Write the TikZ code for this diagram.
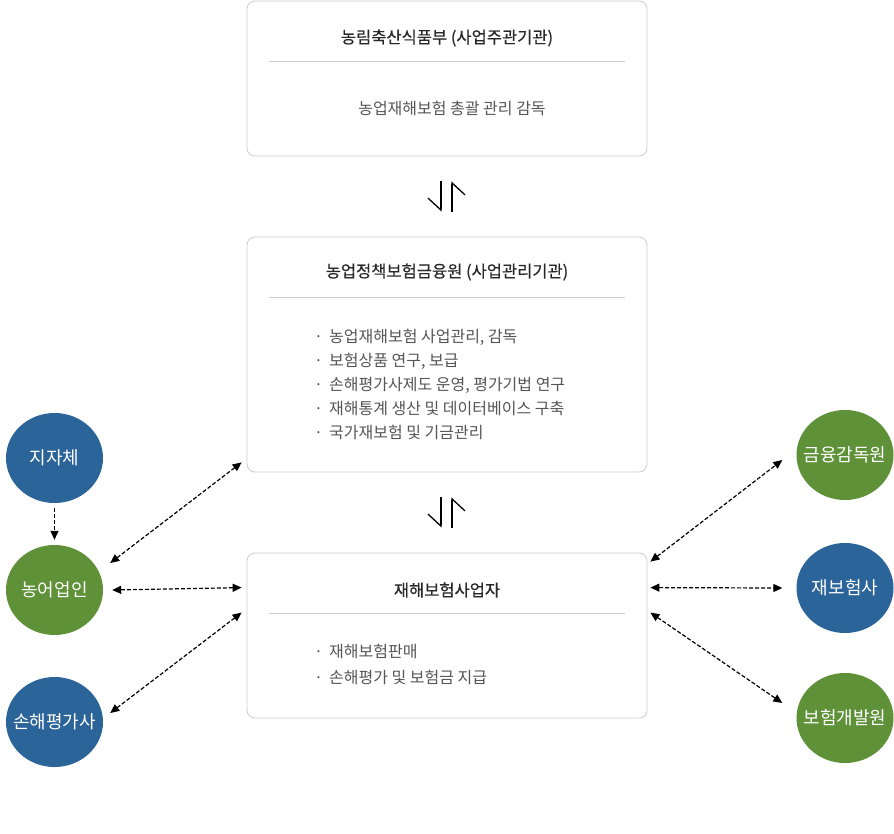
\documentclass[tikz,border=0pt]{standalone}
\usepackage{fontspec}
\setmainfont{Noto Sans CJK KR}
\newfontfamily\titlefont[FakeBold=0.5]{Noto Sans CJK KR}
\usepackage{tikz}
\usetikzlibrary{arrows.meta, calc, shapes.geometric}

\definecolor{boxgray}{RGB}{204,204,204}
\definecolor{orgblue}{RGB}{43,100,153}
\definecolor{orggreen}{RGB}{95,145,57}
\definecolor{titletext}{RGB}{40,40,40}
\definecolor{bodytext}{RGB}{85,85,85}

\begin{document}
\begin{tikzpicture}[x=1pt, y=-1pt,
  box/.style={draw=boxgray, line width=0.8pt, rounded corners=8pt, minimum width=400pt, inner sep=0pt},
  sepline/.style={draw=boxgray, line width=0.8pt},
  boxtitle/.style={text=titletext, font=\titlefont\fontsize{16.5}{20}\selectfont, inner sep=0pt},
  boxbody/.style={text=bodytext, font=\fontsize{16}{24}\selectfont, inner sep=0pt, align=left},
  org/.style={ellipse, minimum width=97pt, minimum height=90pt, inner sep=-10pt, text=white, font=\fontsize{18}{21}\selectfont},
  dashlink/.style={line width=1.2pt, dash pattern=on 4pt off 2pt},
  link/.style={dashlink, {Triangle[length=9pt,width=8pt]}-{Triangle[length=9pt,width=8pt]}},
  onelink/.style={dashlink, -{Triangle[length=9pt,width=8pt]}},
  harpoon/.style={line width=1.3pt, shorten >=25pt, shorten <=25pt, -{Straight Barb[right, length=12pt, width=26pt]}}
]
\useasboundingbox (0,0) rectangle (894,833);

% central boxes
\node[box, minimum height=155pt] (mafra) at (447,78.5) {};
\node[box, minimum height=235pt] (fpis) at (447,354.5) {};
\node[box, minimum height=165pt] (insurer) at (447,635.5) {};

\node[boxtitle] (mafraT) at (447,38) {농림축산식품부 (사업주관기관)};
\node[boxtitle] (fpisT) at (447,272) {농업정책보험금융원 (사업관리기관)};
\node[boxtitle] (insurerT) at (447,590) {재해보험사업자};

\draw[sepline] ($(mafra.north west)+(22,61)$) -- ($(mafra.north east)+(-22,61)$);
\draw[sepline] ($(fpis.north west)+(22,61)$) -- ($(fpis.north east)+(-22,61)$);
\draw[sepline] ($(insurer.north west)+(22,61)$) -- ($(insurer.north east)+(-22,61)$);

\node[boxbody] (mafraB) at (452,108) {농업재해보험 총괄 관리 감독};
\node[boxbody, anchor=north west] (fpisB) at (314,329) {%
  \makebox[15pt][l]{·}농업재해보험 사업관리, 감독\\
  \makebox[15pt][l]{·}보험상품 연구, 보급\\
  \makebox[15pt][l]{·}손해평가사제도 운영, 평가기법 연구\\
  \makebox[15pt][l]{·}재해통계 생산 및 데이터베이스 구축\\
  \makebox[15pt][l]{·}국가재보험 및 기금관리};
\node[boxbody, anchor=north west, font=\fontsize{16}{26}\selectfont] (insurerB) at (314,644) {%
  \makebox[15pt][l]{·}재해보험판매\\
  \makebox[15pt][l]{·}손해평가 및 보험금 지급};

% half arrows between the boxes
\draw[harpoon] ([xshift=-6pt]mafra.south) -- ([xshift=-6pt]fpis.north);
\draw[harpoon] ([xshift=5pt]fpis.north) -- ([xshift=5pt]mafra.south);
\draw[harpoon] ([xshift=-6pt]fpis.south) -- ([xshift=-6pt]insurer.north);
\draw[harpoon] ([xshift=5pt]insurer.north) -- ([xshift=5pt]fpis.south);

% partners
\node[org, fill=orgblue] (jijache) at (54.5,458) {지자체};
\node[org, fill=orggreen] (farmer) at (54.5,590) {농어업인};
\node[org, fill=orgblue] (assessor) at (54.5,722) {손해평가사};
\node[org, fill=orggreen] (fss) at (845,455) {금융감독원};
\node[org, fill=orgblue] (reins) at (845,588) {재보험사};
\node[org, fill=orggreen] (kidi) at (845,718) {보험개발원};

\draw[onelink, shorten >=5pt, shorten <=5pt] (jijache) -- (farmer);
\draw[link] ($(farmer.east)+(7,-27)$) -- ($(fpis.south west)+(-5,-10)$);
\draw[link] ($(farmer.east)+(9,0)$) -- ($(insurer.north west)+(-5,35)$);
\draw[link] ($(assessor.east)+(7,-9)$) -- ($(insurer.north west)+(-5,60)$);
\draw[link] ($(insurer.north east)+(3,9)$) -- ($(fss.west)+(-14,5)$);
\draw[link] ($(insurer.north east)+(3,35)$) -- ($(reins.west)+(-14,0)$);
\draw[link] ($(insurer.north east)+(3,60)$) -- ($(kidi.west)+(-14,-15)$);
\end{tikzpicture}
\end{document}
